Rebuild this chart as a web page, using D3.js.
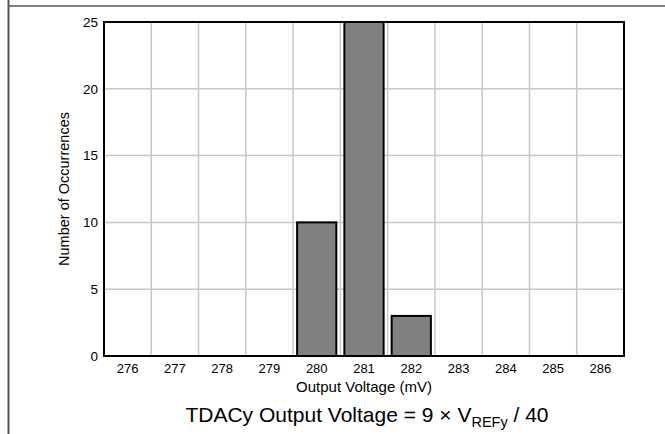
<!DOCTYPE html>
<html><head><meta charset="utf-8">
<script src="https://cdn.jsdelivr.net/npm/d3@7"></script>
<style>body{margin:0;background:#fff}svg{display:block;font-family:Arial,"Liberation Sans",sans-serif}</style>
</head><body><svg id="c" width="665" height="434"></svg>
<script>
const categories = ["276","277","278","279","280","281","282","283","284","285","286"];
const counts = [0,0,0,0,10,25,3,0,0,0,0];
const yTicks = [0,5,10,15,20,25];

const svg = d3.select("#c");
const FF = "Arial,'Liberation Sans',sans-serif";
const m = {l:104, r:624, t:22, b:356};
const x = d3.scaleBand().domain(categories).range([m.l, m.r]).paddingInner(0.17).paddingOuter(0.085);
const xb = d3.scaleBand().domain(categories).range([m.l, m.r]);
const y = d3.scaleLinear().domain([0,25]).range([m.b, m.t]);

// frame lines
svg.append("line").attr("x1",8.5).attr("x2",8.5).attr("y1",0).attr("y2",434).attr("stroke","#555").attr("stroke-width",2);
svg.append("line").attr("x1",9).attr("x2",665).attr("y1",6).attr("y2",6).attr("stroke","#555").attr("stroke-width",1.5);

// grid
svg.append("g").selectAll("line").data(categories.slice(1)).join("line")
  .attr("x1",d=>xb(d)).attr("x2",d=>xb(d)).attr("y1",m.t).attr("y2",m.b)
  .attr("stroke","#c8c8c8").attr("stroke-width",1.5);
svg.append("g").selectAll("line").data(yTicks.slice(1,-1)).join("line")
  .attr("x1",m.l).attr("x2",m.r).attr("y1",d=>y(d)).attr("y2",d=>y(d))
  .attr("stroke","#c8c8c8").attr("stroke-width",1.5);

// bars
svg.append("g").selectAll("rect").data(categories.map((c,i)=>({c,v:counts[i]})).filter(d=>d.v>0)).join("rect")
  .attr("x",d=>x(d.c)).attr("width",x.bandwidth())
  .attr("y",d=>y(d.v)).attr("height",d=>y(0)-y(d.v))
  .attr("fill","#808080").attr("stroke","#000").attr("stroke-width",2);

// border
svg.append("rect").attr("x",m.l).attr("y",m.t).attr("width",m.r-m.l).attr("height",m.b-m.t)
  .attr("fill","none").attr("stroke","#000").attr("stroke-width",2);

// axes
const ya = svg.append("g").attr("transform",`translate(${m.l},0)`)
  .call(d3.axisLeft(y).tickValues(yTicks).tickSize(0).tickPadding(6));
ya.select(".domain").remove();
ya.attr("font-size",13.5).attr("font-family",FF);
ya.selectAll("text").attr("font-size",13.5).attr("fill","#000");

const xa = svg.append("g").attr("transform",`translate(0,${m.b})`)
  .call(d3.axisBottom(xb).tickSize(0).tickPadding(8));
xa.select(".domain").remove();
xa.attr("font-size",13).attr("font-family",FF);
xa.selectAll("text").attr("font-size",13).attr("fill","#000");

svg.append("text").attr("x",(m.l+m.r)/2).attr("y",392).attr("text-anchor","middle")
  .attr("font-size",15).text("Output Voltage (mV)");
svg.append("text").attr("transform",`translate(68.5,${(m.t+m.b)/2}) rotate(-90)`).attr("text-anchor","middle")
  .attr("font-size",14.5).text("Number of Occurrences");

const cap = svg.append("text").attr("x",367).attr("y",422).attr("text-anchor","middle").attr("font-size",21);
cap.append("tspan").text("TDACy Output Voltage = 9 × V");
cap.append("tspan").attr("font-size",14.5).attr("dy",5).text("REFy");
cap.append("tspan").attr("dy",-5).text(" / 40");
</script></body></html>
